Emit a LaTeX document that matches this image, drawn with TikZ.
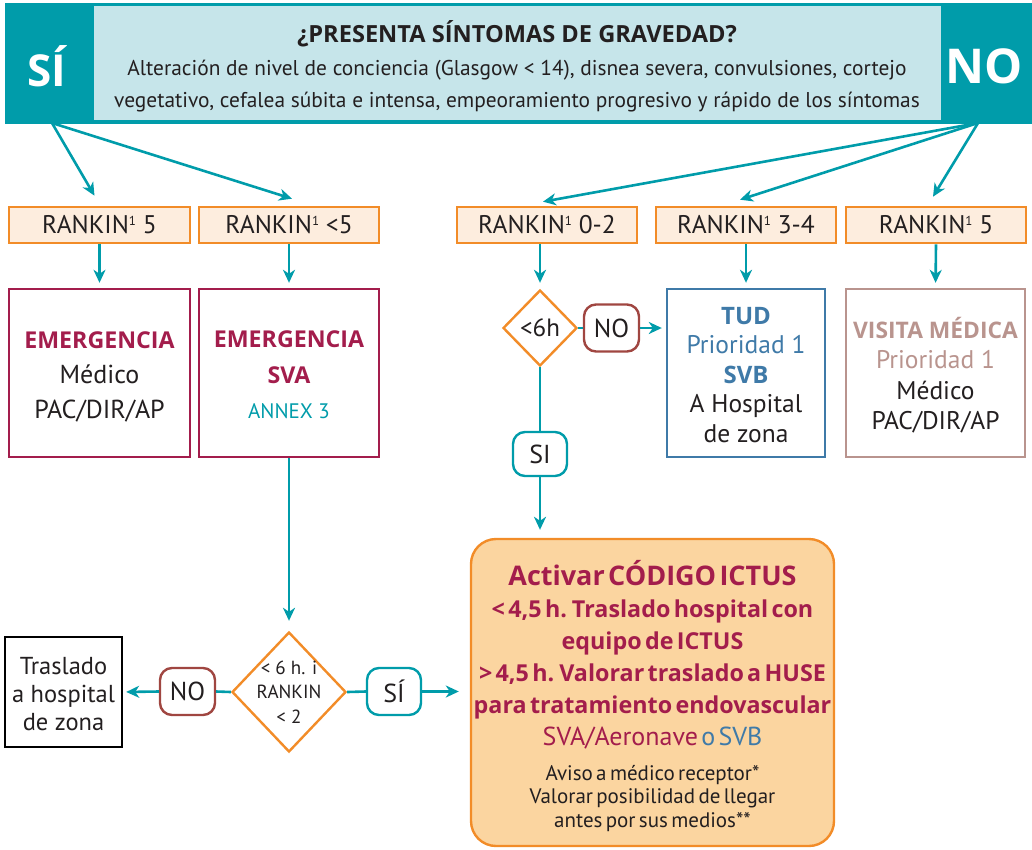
\documentclass[tikz,border=0pt]{standalone}
\usepackage{fontspec}
\setmainfont{PT Sans}
\newfontfamily\bfam{Open Sans}
\usetikzlibrary{arrows.meta,calc,shapes.geometric}
\definecolor{teal1}{RGB}{0,156,170}
\definecolor{hdrfill}{RGB}{198,229,234}
\definecolor{orange1}{RGB}{242,140,40}
\definecolor{rkfill}{RGB}{253,237,222}
\definecolor{maroon1}{RGB}{163,29,76}
\definecolor{blue1}{RGB}{63,122,168}
\definecolor{mauve1}{RGB}{185,148,142}
\definecolor{nored}{RGB}{160,70,65}
\definecolor{ictusfill}{RGB}{251,213,160}
\definecolor{txt}{RGB}{35,31,32}
\newcommand{\Bf}{\bfam\bfseries}
\newcommand{\supone}{\raisebox{8pt}{\fontsize{13}{13}\selectfont 1}}
\begin{document}
\begin{tikzpicture}[x=1pt,y=-1pt,
  every node/.style={text=txt},
  arr/.style={draw=teal1, line width=2.6pt, -{Stealth[length=13pt,width=12pt,inset=4pt]}},
  ln/.style={draw=teal1, line width=2.6pt},
  rk/.style={draw=orange1, fill=rkfill, line width=2.6pt, minimum height=36pt, inner sep=0pt, font=\fontsize{25.5}{28}\selectfont},
  bigbox/.style={line width=2.4pt, minimum height=168pt, inner sep=0pt, fill=white},
  boxtext/.style={align=center, inner sep=0pt},
  diam/.style={diamond, draw=orange1, fill=white, line width=2.4pt, inner sep=0pt},
  lbl/.style={rounded corners=12pt, line width=2.4pt, fill=white, minimum width=55pt, minimum height=47pt, inner sep=0pt, font=\fontsize{26}{28}\selectfont}
]
\useasboundingbox (0,0) rectangle (1032,849);
% header
\node[fill=teal1, minimum width=1027pt, minimum height=121pt, inner sep=0pt] (band) at (518.5,63.5) {};
\node[fill=hdrfill, draw=teal1, line width=1.5pt, minimum width=849pt, minimum height=116pt, inner sep=0pt] (q) at (517.5,63) {};
\node[font=\fontsize{23.6}{26}\Bf] (qtitle) at (517,34) {¿PRESENTA SÍNTOMAS DE GRAVEDAD?};
\node[font=\fontsize{21.4}{32}\selectfont, align=center] (qbody) at (517,86) {Alteración de nivel de conciencia (Glasgow < 14), disnea severa, convulsiones, cortejo\\vegetativo, cefalea súbita e intensa, empeoramiento progresivo y rápido de los síntomas};
\node[text=white, font=\fontsize{44}{50}\Bf] (si) at (47,66) {SÍ};
\node[text=white, font=\fontsize{48}{52}\Bf] (no) at (984,66) {NO};
\coordinate (siOut) at (52,123);
\coordinate (noOut) at (978,123);
% rankin boxes
\node[rk, minimum width=181pt] (r1) at (99.5,225) {RANKIN\supone\ 5};
\node[rk, minimum width=180pt] (r2) at (289,225) {RANKIN\supone\ <5};
\node[rk, minimum width=180pt] (r3) at (547,225) {RANKIN\supone\ 0-2};
\node[rk, minimum width=180pt] (r4) at (746,225) {RANKIN\supone\ 3-4};
\node[rk, minimum width=180pt] (r5) at (936,225) {RANKIN\supone\ 5};
% boxes row 2
\node[bigbox, draw=maroon1, minimum width=181pt] (e1) at (99.5,373) {};
\node[boxtext, font=\fontsize{26}{35}\selectfont] (e1t) at (99.5,377)
  {{\fontsize{23.2}{35}\Bf\color{maroon1}EMERGENCIA}\\Médico\\PAC/DIR/AP};
\node[bigbox, draw=maroon1, minimum width=180pt] (e2) at (289,373) {};
\node[boxtext, font=\fontsize{23.2}{35.5}\Bf] (e2t) at (289,375)
  {{\color{maroon1}EMERGENCIA}\\{\color{maroon1}SVA}\\{\fontsize{21}{22}\mdseries\rmfamily\color{teal1}ANNEX 3}};
\node[diam, minimum width=74pt, minimum height=76pt] (d1) at (540,328) {};
\node[font=\fontsize{25}{28}\selectfont] (d1t) at (d1) {<6h};
\node[lbl, draw=nored] (no1) at (611.5,328) {NO};
\node[bigbox, draw=blue1, minimum width=158pt] (tud) at (746,373) {};
\node[boxtext, font=\fontsize{25.5}{29.5}\selectfont] (tudt) at (746,375)
  {{\fontsize{24}{29.5}\Bf\color{blue1}TUD}\\{\color{blue1}Prioridad 1}\\{\fontsize{24}{29.5}\Bf\color{blue1}SVB}\\A Hospital\\de zona};
\node[bigbox, draw=mauve1, minimum width=179pt] (vis) at (935.5,373) {};
\node[boxtext, font=\fontsize{25.5}{30.5}\selectfont] (vist) at (935.5,375)
  {{\fontsize{22.8}{30.5}\Bf\color{mauve1}VISITA MÉDICA}\\{\color{mauve1}Prioridad 1}\\Médico\\PAC/DIR/AP};
\node[lbl, draw=teal1, minimum width=54pt, minimum height=44pt] (si1) at (540,454) {SI};
% bottom
\node[draw=orange1, fill=ictusfill, line width=2.4pt, rounded corners=25pt, minimum width=363pt, minimum height=307pt, inner sep=0pt] (ictus) at (652.5,692.5) {};
\node[text width=362pt, align=center, inner sep=0pt] (ictustxt) at (652.5,696) {%
{\fontsize{27}{31}\Bf\color{maroon1}Activar CÓDIGO ICTUS\par}%
{\fontsize{23.3}{32}\Bf\color{maroon1}< 4,5 h. Traslado hospital con\\equipo de ICTUS\\> 4,5 h. Valorar traslado a HUSE\\para tratamiento endovascular\par}%
{\fontsize{26}{32}\selectfont\color{maroon1}SVA/Aeronave {\color{blue1}o SVB}\par}%
\vspace{11pt}%
{\fontsize{21}{23.5}\selectfont Aviso a médico receptor*\\Valorar posibilidad de llegar\\antes por sus medios**\par}};
\node[diam, minimum width=114pt, minimum height=120pt] (d2) at (289,692) {};
\node[align=center, font=\fontsize{19}{24.5}\selectfont] (d2t) at (289,692) {< 6 h. i\\RANKIN\\< 2};
\node[lbl, draw=nored] (no2) at (187.5,691.5) {NO};
\node[lbl, draw=teal1, minimum width=54pt] (si2) at (394,691.5) {SÍ};
\node[draw=black, line width=2.4pt, minimum width=117pt, minimum height=110pt, inner sep=0pt] (tras) at (63.5,692) {};
\node[boxtext, font=\fontsize{24.5}{28}\selectfont] (trast) at (63.5,694) {Traslado\\a hospital\\de zona};
% connectors
\draw[arr] (siOut) -- ($(r1.north)+(-5,-10)$);
\draw[arr] (siOut) -- ($(r2.north)+(3,-7)$);
\draw[arr] (noOut) -- ($(r3.north)+(-4,-4)$);
\draw[arr] (noOut) -- ($(r4.north)+(-6,-6)$);
\draw[arr] (noOut) -- ($(r5.north)+(-3,-9)$);
\draw[arr, shorten >=5pt] (r1.south) -- (e1.north);
\draw[arr, shorten >=5pt] (r2.south) -- (e2.north);
\draw[arr, shorten >=6pt] (d1.north |- r3.south) -- (d1.north);
\draw[arr, shorten >=5pt] (r4.south) -- (tud.north);
\draw[arr, shorten >=5pt] (r5.south) -- (vis.north);
\draw[ln] (d1.east) -- (no1.west);
\draw[arr, shorten >=4pt] (no1.east) -- (no1.east -| tud.west);
\draw[ln] (d1.south) -- (si1.north);
\draw[arr, shorten >=8pt] (si1.south) -- (si1.south |- ictus.north);
\draw[arr, shorten >=10pt] (e2.south) -- (d2.north);
\draw[ln] (d2.west) -- (no2.east);
\draw[arr, shorten >=3pt] (no2.west) -- (tras.east);
\draw[ln] (d2.east) -- (si2.west);
\draw[arr, shorten >=11pt] (si2.east) -- (si2.east -| ictus.west);
\end{tikzpicture}
\end{document}
